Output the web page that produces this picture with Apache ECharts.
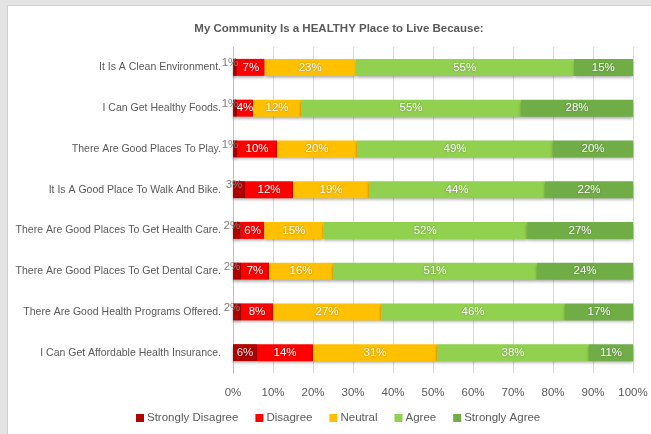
<!DOCTYPE html>
<html>
<head>
<meta charset="utf-8">
<script src="https://cdn.jsdelivr.net/npm/echarts@6/dist/echarts.min.js"></script>
<style>
  html, body { margin: 0; padding: 0; background: #e4e4e4; }
  #frame { position: absolute; left: 7px; top: 5px; width: 644px; height: 429px; background: #ffffff; border-left: 1px solid #d0d0d0; border-top: 1px solid #d0d0d0; box-sizing: border-box; }
  #chart { position: absolute; left: 0; top: 0; width: 651px; height: 434px; }
</style>
</head>
<body>
<div id="frame"></div>
<div id="chart"></div>
<script>
// Survey statements (top to bottom)
const categories = [
  'It Is A Clean Environment.',
  'I Can Get Healthy Foods.',
  'There Are Good Places To Play.',
  'It Is A Good Place To Walk And Bike.',
  'There Are Good Places To Get Health Care.',
  'There Are Good Places To Get Dental Care.',
  'There Are Good Health Programs Offered.',
  'I Can Get Affordable Health Insurance.'
];

// Response shares (%) per statement
const stronglyDisagree = [1, 1, 1, 3, 2, 2, 2, 6];
const disagree         = [7, 4, 10, 12, 6, 7, 8, 14];
const neutral          = [23, 12, 20, 19, 15, 16, 27, 31];
const agree            = [55, 55, 49, 44, 52, 51, 46, 38];
const stronglyAgree    = [15, 28, 20, 22, 27, 24, 17, 11];

const xTicks = [0, 10, 20, 30, 40, 50, 60, 70, 80, 90, 100];

const seriesNames = ['Strongly Disagree', 'Disagree', 'Neutral', 'Agree', 'Strongly Agree'];
const seriesColors = ['#b00000', '#ff0000', '#ffc000', '#92d050', '#70ad47'];
const seriesValues = [stronglyDisagree, disagree, neutral, agree, stronglyAgree];

// each bar is stacked to 100%
const rowTotals = categories.map((_, i) =>
  seriesValues.reduce((s, arr) => s + arr[i], 0));

const FONT = "'Liberation Sans', Arial, sans-serif";

const series = seriesValues.map((vals, si) => ({
  name: seriesNames[si],
  type: 'bar',
  stack: 'total',
  barWidth: 17,
  itemStyle: {
    color: seriesColors[si],
    shadowColor: 'rgba(0,0,0,0.35)',
    shadowBlur: 3,
    shadowOffsetY: 2
  },
  label: {
    show: true,
    position: 'inside',
    color: '#ffffff',
    fontFamily: FONT,
    fontSize: 11.5,
    textShadowColor: 'rgba(0,0,0,0.35)',
    textShadowBlur: 2,
    formatter: (p) => vals[p.dataIndex] + '%'
  },
  data: vals.map((v, i) => {
    const item = { value: v / rowTotals[i] * 100 };
    if (v < 4) {
      // too narrow for an inside label: place it just above the left end
      item.label = {
        position: 'top',
        distance: -10,
        offset: [-5, 0],
        color: '#808080',
        textShadowBlur: 0
      };
    } else if (si === 0) {
      item.label = { color: '#e0e0e0' };
    }
    return item;
  })
}));

const chart = echarts.init(document.getElementById('chart'), null, { renderer: 'canvas' });
chart.setOption({
  backgroundColor: 'transparent',
  animation: false,
  title: {
    text: 'My Community Is a HEALTHY Place to Live Because:',
    left: 334,
    top: 18,
    textAlign: 'center',
    textStyle: { fontFamily: FONT, fontSize: 11.5, fontWeight: 'bold', color: '#595959' }
  },
  legend: {
    bottom: 5,
    left: 131,
    itemWidth: 8,
    itemHeight: 8,
    itemGap: 17,
    icon: 'rect',
    textStyle: { fontFamily: FONT, fontSize: 11.5, color: '#595959', padding: [0, 0, 0, -2] },
    data: seriesNames
  },
  grid: { left: 233, right: 18, top: 47, bottom: 61 },
  xAxis: {
    type: 'value',
    min: xTicks[0],
    max: xTicks[xTicks.length - 1],
    interval: xTicks[1] - xTicks[0],
    axisLine: { show: false },
    axisTick: { show: false },
    splitLine: { show: true, lineStyle: { color: '#d9d9d9', width: 1 } },
    axisLabel: {
      fontFamily: FONT, fontSize: 11.5, color: '#595959', margin: 14,
      formatter: (v) => v + '%'
    }
  },
  yAxis: {
    type: 'category',
    data: categories,
    inverse: true,
    axisLine: { show: true, lineStyle: { color: '#bfbfbf' } },
    axisTick: { show: false },
    axisLabel: { fontFamily: FONT, fontSize: 10.5, color: '#595959', margin: 12 }
  },
  series: series
});
</script>
</body>
</html>
